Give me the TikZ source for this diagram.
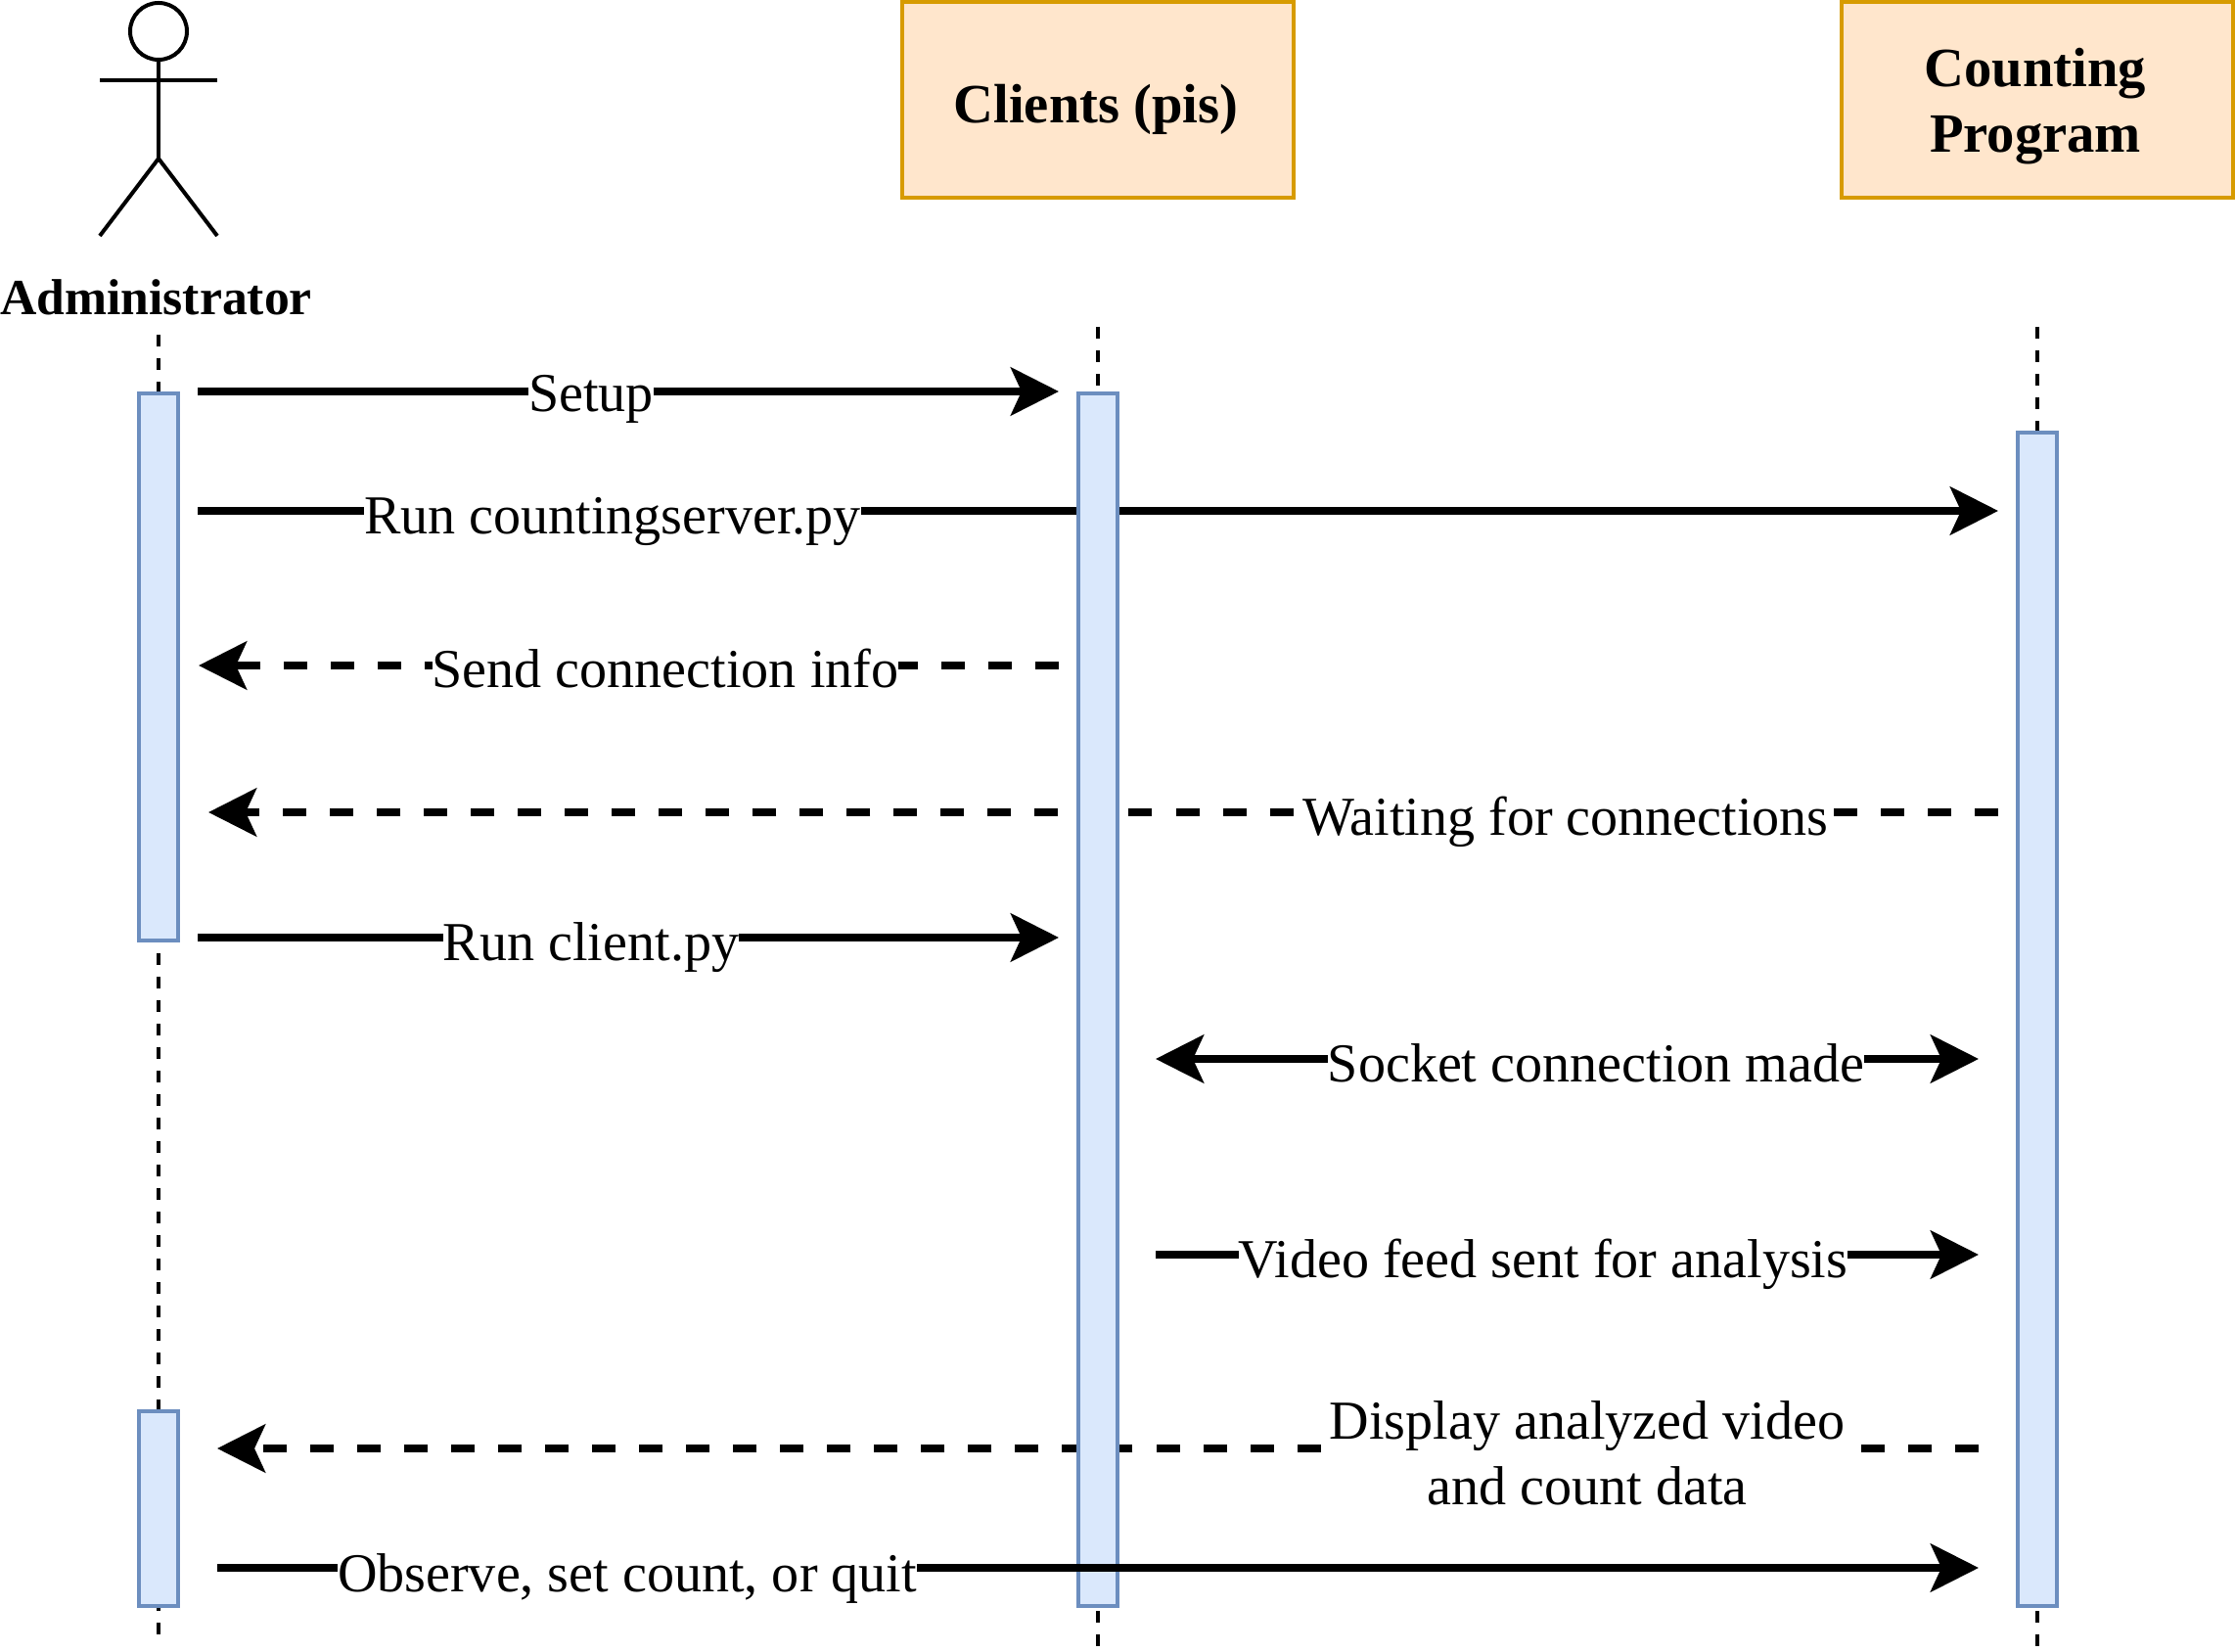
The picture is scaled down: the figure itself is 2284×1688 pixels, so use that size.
\documentclass[tikz,border=0pt]{standalone}
\usepackage{fontspec}
\setmainfont{Liberation Serif}
\usetikzlibrary{arrows.meta}
\definecolor{actfill}{HTML}{DAE8FC}
\definecolor{actline}{HTML}{6C8EBF}
\definecolor{boxfill}{HTML}{FFE6CC}
\definecolor{boxline}{HTML}{D79B00}
\tikzset{
  txt/.style={font=\fontsize{15.95}{19.06}\selectfont, inner sep=0pt, outer sep=0pt, align=center},
  msglabel/.style={txt, fill=white, anchor=base},
  headlabel/.style={txt, font=\fontsize{16.1}{19.06}\selectfont\bfseries, anchor=base},
  adminlabel/.style={txt, font=\fontsize{14.7}{19.06}\selectfont\bfseries, anchor=base},
  participant/.style={draw=boxline, fill=boxfill, line width=0.04cm, minimum width=4cm, minimum height=2cm, inner sep=0pt, outer sep=0pt},
  activation/.style={draw=actline, fill=actfill, line width=0.04cm, minimum width=0.4cm, inner sep=0pt, outer sep=0pt},
  lifeline/.style={line width=0.04cm, dash pattern=on 0.12cm off 0.12cm},
  stick/.style={line width=0.04cm},
  msg/.style={line width=0.08cm, -{Stealth[length=0.49cm,width=0.49cm,inset=0.11cm]}},
  msgboth/.style={line width=0.08cm, {Stealth[length=0.49cm,width=0.49cm,inset=0.11cm]}-{Stealth[length=0.49cm,width=0.49cm,inset=0.11cm]}},
  reply/.style={msg, dash pattern=on 0.24cm off 0.24cm},
}
\begin{document}
\begin{tikzpicture}[x=0.01cm,y=-0.01cm]
\useasboundingbox (0,0) rectangle (2284,1688);

% actor
\node[circle, draw, stick, minimum size=0.58cm, inner sep=0pt, outer sep=0pt] (head) at (162,32) {};
\coordinate (hip) at (162,162);
\coordinate (armL) at (102,82);
\coordinate (armR) at (222,82);
\coordinate (footL) at (102,241);
\coordinate (footR) at (222,241);
\draw[stick] (head.south) -- (hip);
\draw[stick] (armL) -- (armR);
\draw[stick] (footL) -- (hip) -- (footR);
\node[adminlabel] (admin) at (159.5,321) {Administrator};

% participants
\node[participant] (clients) at (1122,102) {};
\node[headlabel] (clientsT) at (1120,126) {Clients (pis)};
\node[participant] (counting) at (2082,102) {};
\node[headlabel] (countingA) at (2080,89) {Counting};
\node[headlabel] (countingB) at (2080,156) {Program};

% lifelines
\coordinate (l1a) at (162,342);  \coordinate (l1b) at (162,402);
\coordinate (l1c) at (162,974);  \coordinate (l1d) at (162,1442);
\coordinate (l1e) at (162,1634); \coordinate (l1f) at (162,1670);
\coordinate (l2a) at (1122,334); \coordinate (l2b) at (1122,402);
\coordinate (l2c) at (1122,1646);\coordinate (l2d) at (1122,1683);
\coordinate (l3a) at (2082,334); \coordinate (l3b) at (2082,442);
\coordinate (l3c) at (2082,1646);\coordinate (l3d) at (2082,1683);
\draw[lifeline] (l1a) -- (l1b);
\draw[lifeline] (l1c) -- (l1d);
\draw[lifeline] (l1e) -- (l1f);
\draw[lifeline] (l2a) -- (l2b);
\draw[lifeline] (l2c) -- (l2d);
\draw[lifeline] (l3a) -- (l3b);
\draw[lifeline] (l3c) -- (l3d);

% message ends
\coordinate (m1a) at (202,400);  \coordinate (m1b) at (1082,400);
\coordinate (m2a) at (202,522);  \coordinate (m2b) at (2042,522);
\coordinate (m3a) at (1082,680); \coordinate (m3b) at (203,680);
\coordinate (m4a) at (2042,830); \coordinate (m4b) at (213,830);
\coordinate (m5a) at (202,958);  \coordinate (m5b) at (1082,958);
\coordinate (m6a) at (1181,1082);\coordinate (m6b) at (2022,1082);
\coordinate (m7a) at (1181,1282);\coordinate (m7b) at (2022,1282);
\coordinate (m8a) at (2022,1480);\coordinate (m8b) at (222,1480);
\coordinate (m9a) at (222,1602); \coordinate (m9b) at (2022,1602);

\draw[msg] (m1a) -- (m1b);
\draw[msg] (m2a) -- (m2b);
\draw[reply] (m3a) -- (m3b);
\draw[reply] (m4a) -- (m4b);
\draw[msg] (m5a) -- (m5b);
\draw[msgboth] (m6a) -- (m6b);
\draw[msg] (m7a) -- (m7b);
\draw[reply] (m8a) -- (m8b);

% activations
\node[activation, minimum height=5.59cm] (act1) at (162,681.5) {};
\node[activation, minimum height=1.99cm] (act1b) at (162,1541.5) {};
\node[activation, minimum height=12.39cm] (act2) at (1122,1021.5) {};
\node[activation, minimum height=11.99cm] (act3) at (2082,1041.5) {};

\draw[msg] (m9a) -- (m9b);

% labels
\node[msglabel] (t1) at (604,420) {Setup};
\node[msglabel] (t2) at (626,545) {Run countingserver.py};
\node[msglabel] (t3) at (680,702) {Send connection info};
\node[msglabel] (t4) at (1600,853) {Waiting for connections};
\node[msglabel] (t5) at (604,981) {Run client.py};
\node[msglabel] (t6) at (1631,1105) {Socket connection made};
\node[msglabel] (t7) at (1577,1305) {Video feed sent for analysis};
\node[msglabel, anchor=center] (t8) at (1622,1485) {Display analyzed video\\and count data};
\node[msglabel] (t9) at (641,1626) {Observe, set count, or quit};
\end{tikzpicture}
\end{document}
